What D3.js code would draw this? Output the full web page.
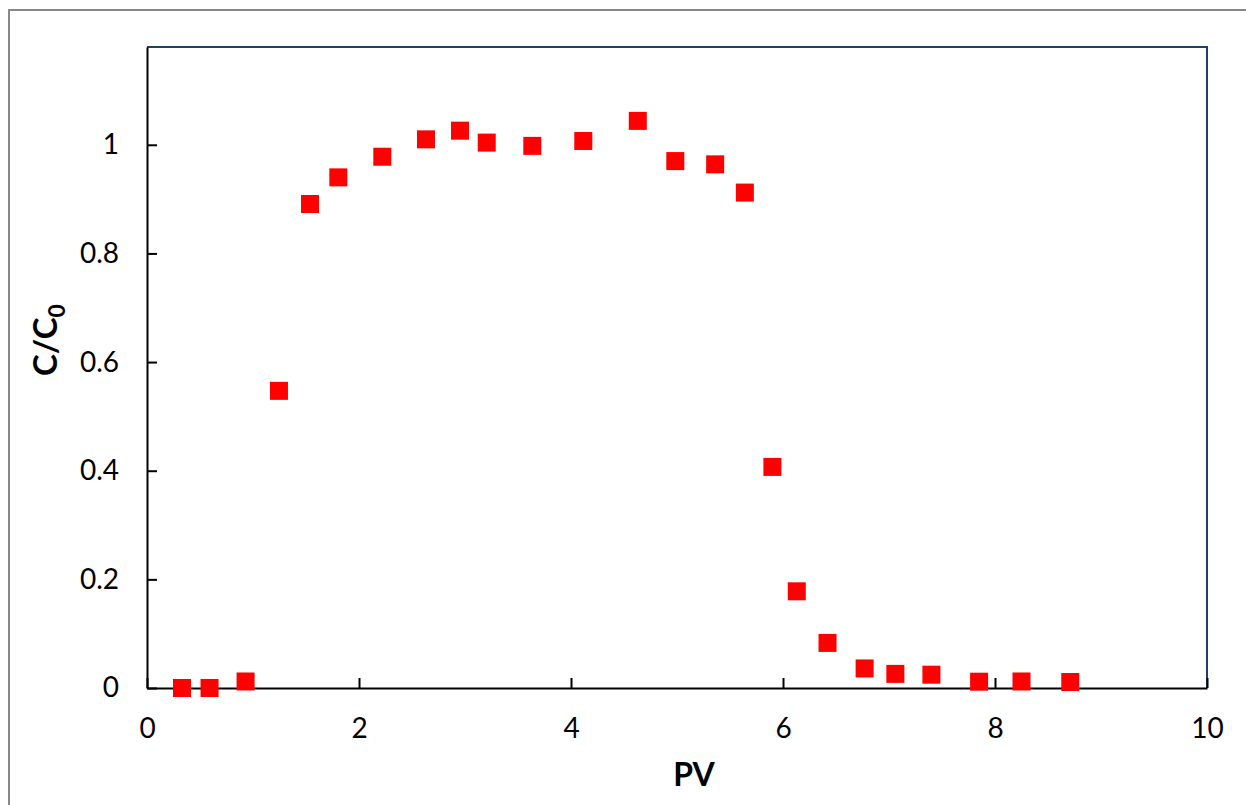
<!DOCTYPE html>
<html>
<head>
<meta charset="utf-8">
<script src="https://cdn.jsdelivr.net/npm/d3@7"></script>
<style>
  body { margin: 0; background: #fff; }
  text { font-family: Lato, "Open Sans", sans-serif; fill: #000; }
</style>
</head>
<body>
<svg id="chart" width="1246" height="805"></svg>
<script>
// values
const pv = [0.33, 0.59, 0.93, 1.245, 1.538, 1.805, 2.22, 2.632, 2.953, 3.205, 3.635, 4.116, 4.63,
            4.984, 5.36, 5.64, 5.90, 6.13, 6.42, 6.77, 7.06, 7.40, 7.85, 8.25, 8.71];
const conc = [0.0, 0.0, 0.012, 0.547, 0.891, 0.940, 0.978, 1.010, 1.026, 1.004, 0.998, 1.007, 1.044,
              0.970, 0.964, 0.912, 0.407, 0.178, 0.083, 0.036, 0.026, 0.0245, 0.0116, 0.012, 0.011];
const xTicks = [0, 2, 4, 6, 8, 10];
const yTicks = [0, 0.2, 0.4, 0.6, 0.8, 1];

const svg = d3.select("#chart");
const margin = { top: 47, right: 40, bottom: 117, left: 147 };
const width = 1207 - margin.left;
const height = 688 - margin.top;

// outer chart frame
svg.append("rect")
    .attr("x", 9).attr("y", 10)
    .attr("width", 1260).attr("height", 820)
    .attr("fill", "none")
    .attr("stroke", "#888")
    .attr("stroke-width", 2);

const g = svg.append("g").attr("transform", `translate(${margin.left},${margin.top})`);

const x = d3.scaleLinear().domain([0, 10]).range([0, width]);
const y = d3.scaleLinear().domain([0, 1.18]).range([height, 0]);

// top and right border
g.append("path")
    .attr("d", `M0,0H${width}V${height}`)
    .attr("fill", "none")
    .attr("stroke", "#243f60")
    .attr("stroke-width", 2);

const xAxis = g.append("g")
    .attr("transform", `translate(0,${height})`)
    .call(d3.axisBottom(x).tickValues(xTicks).tickSizeInner(-10).tickSizeOuter(0).tickPadding(30).tickFormat(d3.format("d")));

const yAxis = g.append("g")
    .call(d3.axisLeft(y).tickValues(yTicks).tickSizeInner(-10).tickSizeOuter(0).tickPadding(28).tickFormat(d => d === 0 || d === 1 ? d3.format("d")(d) : d3.format(".1f")(d)));

[xAxis, yAxis].forEach(a => {
    a.select(".domain").attr("stroke", "#000").attr("stroke-width", 2);
    a.selectAll(".tick line").attr("stroke", "#000").attr("stroke-width", 2);
    a.selectAll(".tick text").style("font-size", "28px").attr("fill", "#000");
});
xAxis.selectAll(".tick text").attr("dy", "0.71em");
// ticks point into the plot
yAxis.selectAll(".tick line").attr("x2", 10);
xAxis.selectAll(".tick line").attr("y2", -10);

g.selectAll(".pt")
    .data(pv.map((v, i) => [v, conc[i]]))
    .enter()
    .append("rect")
    .attr("class", "pt")
    .attr("x", d => x(d[0]) - 9)
    .attr("y", d => y(d[1]) - 9)
    .attr("width", 18)
    .attr("height", 18)
    .attr("fill", "#ff0000");

svg.append("text")
    .attr("x", 694)
    .attr("y", 786)
    .attr("text-anchor", "middle")
    .style("font-size", "32px")
    .style("font-weight", "bold")
    .text("PV");

const yt = svg.append("text")
    .attr("transform", "translate(57,340) rotate(-90)")
    .attr("text-anchor", "middle")
    .style("font-size", "33px")
    .style("font-weight", "bold");
yt.append("tspan").text("C/C");
yt.append("tspan").attr("dy", 8).style("font-size", "23px").text("0");
</script>
</body>
</html>
